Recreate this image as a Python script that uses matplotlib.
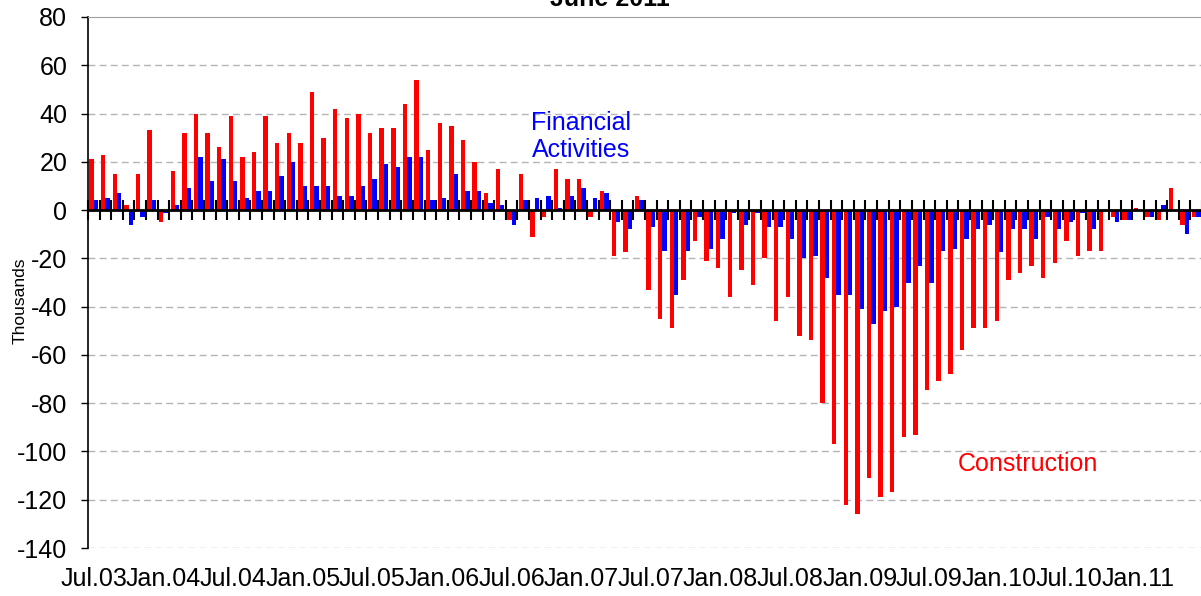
import numpy as np
import matplotlib.pyplot as plt

plt.rcParams['font.family'] = ['Liberation Sans', 'DejaVu Sans']

# monthly change, thousands, Jul 2003 - Jun 2011
months = ['Jul.03', 'Aug.03', 'Sep.03', 'Oct.03', 'Nov.03', 'Dec.03',
          'Jan.04', 'Feb.04', 'Mar.04', 'Apr.04', 'May.04', 'Jun.04',
          'Jul.04', 'Aug.04', 'Sep.04', 'Oct.04', 'Nov.04', 'Dec.04',
          'Jan.05', 'Feb.05', 'Mar.05', 'Apr.05', 'May.05', 'Jun.05',
          'Jul.05', 'Aug.05', 'Sep.05', 'Oct.05', 'Nov.05', 'Dec.05',
          'Jan.06', 'Feb.06', 'Mar.06', 'Apr.06', 'May.06', 'Jun.06',
          'Jul.06', 'Aug.06', 'Sep.06', 'Oct.06', 'Nov.06', 'Dec.06',
          'Jan.07', 'Feb.07', 'Mar.07', 'Apr.07', 'May.07', 'Jun.07',
          'Jul.07', 'Aug.07', 'Sep.07', 'Oct.07', 'Nov.07', 'Dec.07',
          'Jan.08', 'Feb.08', 'Mar.08', 'Apr.08', 'May.08', 'Jun.08',
          'Jul.08', 'Aug.08', 'Sep.08', 'Oct.08', 'Nov.08', 'Dec.08',
          'Jan.09', 'Feb.09', 'Mar.09', 'Apr.09', 'May.09', 'Jun.09',
          'Jul.09', 'Aug.09', 'Sep.09', 'Oct.09', 'Nov.09', 'Dec.09',
          'Jan.10', 'Feb.10', 'Mar.10', 'Apr.10', 'May.10', 'Jun.10',
          'Jul.10', 'Aug.10', 'Sep.10', 'Oct.10', 'Nov.10', 'Dec.10',
          'Jan.11', 'Feb.11', 'Mar.11', 'Apr.11', 'May.11', 'Jun.11']

construction = [21, 23, 15, 2, 15, 33, -5, 16, 32, 40, 32, 26,
                39, 22, 24, 39, 28, 32, 28, 49, 30, 42, 38, 40,
                32, 34, 34, 44, 54, 25, 36, 35, 29, 20, 7, 17,
                -4, 15, -11, -3, 17, 13, 13, -3, 8, -19, -17.5, 6,
                -33, -45, -49, -29, -13, -21, -24, -36, -25, -31, -20, -46,
                -36, -52, -54, -80, -97, -122, -126, -111, -119, -117, -94, -93,
                -74.5, -71, -68, -58, -49, -49, -46, -29, -26, -23, -28, -22,
                -13, -19, -17, -17, -3, -4, 1, -3, -4, 9, -6, -3]

financial = [4, 5, 7, -6, -3, 4, -1, 2, 9, 22, 12, 21,
             12, 5, 8, 8, 14, 20, 10, 10, 10, 6, 6, 10,
             13, 19, 18, 22, 22, 4, 5, 15, 8, 8, 3, 2,
             -6, 4, 5, 6, 1, 6, 9, 5, 7, -5, -8, 4,
             -7, -17, -35, -17, -3, -16, -12, -1, -6, -1, -7, -7,
             -12, -20, -19, -28, -35, -35, -41, -47, -42, -40, -30, -23,
             -30, -17, -16, -12, -8, -6, -17.5, -8, -8, -12, -3, -8,
             -5, -1, -8, 0, -5, -4, 0, -3, 2, 0, -10, -3]

yticks = [80, 60, 40, 20, 0, -20, -40, -60, -80, -100, -120, -140]

x = np.arange(len(months))

fig = plt.figure(figsize=(12.01, 5.96), dpi=100)
ax = fig.add_axes([88 / 1201, 1 - 548 / 596, 1114 / 1201, 531 / 596])

w = 0.38
ax.bar(x, construction, width=-w, align='edge', color='#ff0000', zorder=3)
ax.bar(x, financial, width=w, align='edge', color='#0000ff', zorder=3)

ax.set_xlim(-0.5, len(months) - 0.5)
ax.set_ylim(-140, 80)
ax.set_yticks(yticks)
ax.set_yticklabels([str(v) for v in yticks], fontsize=18)
ax.tick_params(axis='y', length=5, width=1, pad=10)
for v in yticks[1:]:
    if v != 0:
        ax.axhline(v, color='#b4b4b4', lw=1, ls=(0, (5, 3)), zorder=1)

# category axis sits on zero, ticks between months
ax.spines['bottom'].set_position(('data', 0))
ax.spines['bottom'].set_linewidth(2)
ax.spines['bottom'].set_zorder(4)
ax.set_xticks(np.arange(len(months) + 1) - 0.5)
ax.set_xticklabels([])
ax.tick_params(axis='x', direction='inout', length=15, width=1.5)

sec = ax.secondary_xaxis(0)
sec.set_xticks(x[::6])
sec.set_xticklabels(months[::6], fontsize=18)
sec.tick_params(length=0, pad=14)
sec.spines['bottom'].set_visible(False)

ax.spines['top'].set_color('#a0a0a0')
ax.spines['right'].set_visible(False)
ax.spines['left'].set_linewidth(1.2)

ax.set_ylabel('Thousands', fontsize=12.5)
ax.yaxis.set_label_coords(-0.054, 0.465)

ax.text(42.0, 30.5, 'Financial\nActivities', color='#0000ff', fontsize=18,
        ha='center', va='center', linespacing=1.2)
ax.text(80.5, -105, 'Construction', color='#ff0000', fontsize=18,
        ha='center', va='center')

fig.text(610 / 1201, 1 - 6 / 596, 'June 2011', ha='center', va='baseline',
         fontsize=18, fontweight='bold')

fig.savefig('out.png', dpi=100)
